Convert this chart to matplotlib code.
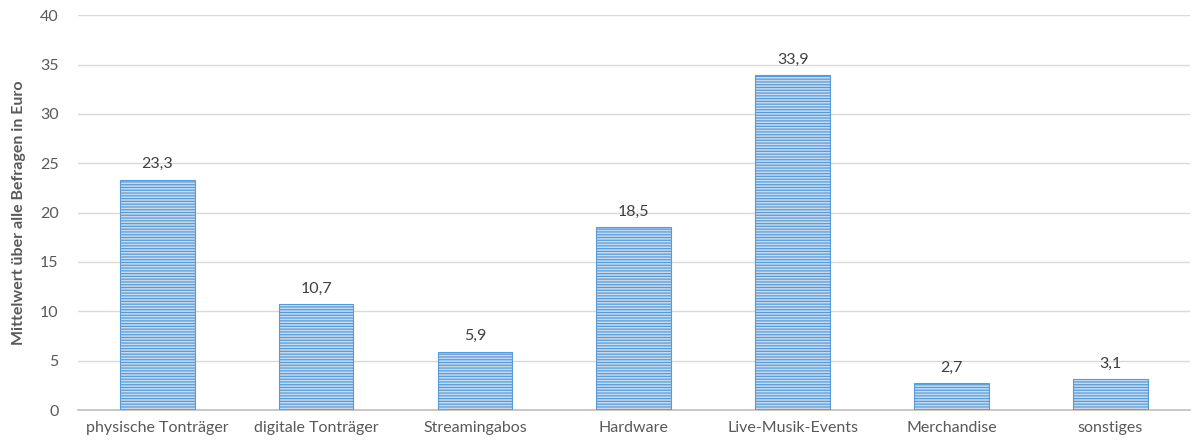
import numpy as np
from matplotlib import pyplot as plt

categories = ['physische Tonträger', 'digitale Tonträger', 'Streamingabos', 'Hardware',
              'Live-Musik-Events', 'Merchandise', 'sonstiges']
values = [23.3, 10.7, 5.9, 18.5, 33.9, 2.7, 3.1]
value_labels = ['23,3', '10,7', '5,9', '18,5', '33,9', '2,7', '3,1']
y_ticks = [0, 5, 10, 15, 20, 25, 30, 35, 40]

TEXT = '#595959'
plt.rcParams['font.family'] = ['Lato', 'DejaVu Sans']
plt.rcParams['hatch.linewidth'] = 0.9

fig = plt.figure(figsize=(11.92, 4.46), dpi=100)
ax = fig.add_axes([0.0654, 0.0807, 0.9326, 0.8853])

x = np.arange(len(categories))
bars = ax.bar(x, values, width=0.47, color='#C3DAF2', edgecolor='#5B9BD5',
              linewidth=0.8, hatch='------', zorder=3)

for rect, lbl in zip(bars, value_labels):
    ax.text(rect.get_x() + rect.get_width() / 2, rect.get_height() + 0.9, lbl,
            ha='center', va='bottom', fontsize=11.5, color='#404040')

ax.set_xlim(-0.5, len(categories) - 0.5)
ax.set_ylim(0, 40)
ax.set_yticks(y_ticks)
ax.set_yticklabels([str(t) for t in y_ticks])
ax.set_xticks(x)
ax.set_xticklabels(categories)
ax.tick_params(axis='both', length=0, labelsize=11.5, colors=TEXT)
ax.tick_params(axis='y', pad=14)
ax.tick_params(axis='x', pad=8)

ax.grid(axis='y', color='#D9D9D9', linewidth=1.0, zorder=0)
for side in ['top', 'right', 'left']:
    ax.spines[side].set_visible(False)
ax.spines['bottom'].set_color('#BFBFBF')
ax.spines['bottom'].set_linewidth(1.2)

ax.set_ylabel('Mittelwert über alle Befragen in Euro', fontsize=11.5,
              fontweight='bold', color=TEXT, labelpad=10)

fig.savefig('out.png', dpi=100)
